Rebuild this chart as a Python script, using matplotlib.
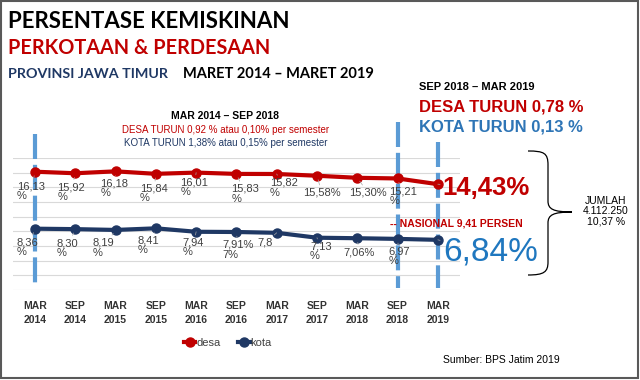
import numpy as np
import matplotlib.pyplot as plt
from matplotlib.path import Path
from matplotlib.patches import PathPatch, Rectangle

plt.rcParams['font.family'] = ['Liberation Sans', 'DejaVu Sans']

# ======== data ========
periods = ['MAR\n2014', 'SEP\n2014', 'MAR\n2015', 'SEP\n2015', 'MAR\n2016', 'SEP\n2016',
           'MAR\n2017', 'SEP\n2017', 'MAR\n2018', 'SEP\n2018', 'MAR\n2019']
desa = [16.13, 15.92, 16.18, 15.84, 16.01, 15.83, 15.82, 15.58, 15.30, 15.21, 14.43]
kota = [8.36, 8.30, 8.19, 8.41, 7.94, 7.91, 7.80, 7.13, 7.06, 6.97, 6.84]
desa_text = ['16,13\n%', '15,92\n%', '16,18\n%', '15,84\n%', '16,01\n%', '15,83\n%',
             '15,82\n%', '15,58%', '15,30%', '15,21\n%', '14,43%']
kota_text = ['8,36\n%', '8,30\n%', '8,19\n%', '8,41\n%', '7,94\n%', '7,91%\n7%',
             '7,8', '7,13\n%', '7,06%', '6,97\n%', '6,84%']
marked = [0, 9, 10]  # MAR 2014, SEP 2018, MAR 2019

# label offsets in pixels (dx right, dy down)
desa_off = [(-18, 10), (-18, 9), (-15, 7), (-16, 10), (-16, 5), (-5, 10),
            (-7, 4), (-14, 12), (-8, 10), (-8, 8)]
kota_off = [(-18, 9), (-19, 9), (-23, 8), (-18, 7), (-14, 6), (-14, 8),
            (-19, 5), (-7, 4), (-14, 9), (-9, 8)]

RED = '#C00000'
NAVY = '#1F3864'
LBLUE = '#5B9BD5'
BLUE = '#1F77BF'
GREY = '#404040'

fig = plt.figure(figsize=(6.4, 3.8), dpi=100)
ax = fig.add_axes([13 / 640, 90 / 380, 447 / 640, 132 / 380])
x = np.arange(len(periods))

ax.set_xlim(-0.546, 10.55)
ax.set_ylim(0, 18)
ax.set_yticks(np.arange(0, 19, 2))
ax.yaxis.grid(True, color='#D9D9D9', lw=0.8)
ax.set_axisbelow(True)
for s in ax.spines.values():
    s.set_visible(False)
ax.tick_params(axis='y', left=False, labelleft=False)
ax.tick_params(axis='x', length=0, pad=8)
ax.set_xticks(x)
ax.set_xticklabels(periods, fontsize=7.5, fontweight='bold', color='#333333', linespacing=1.5)

# dashed period markers (drawn top-down so a dash starts at the top)
tops = [21.3, 22.9, 20.2]
for k, t in zip(marked, tops):
    ax.plot([k, k], [t, 0.3], color=LBLUE, lw=3, ls=(0, (6, 1.4)), clip_on=False, zorder=1)

ax.plot(x, desa, color=RED, lw=3, marker='o', ms=6.5, label='desa', zorder=3)
ax.plot(x, kota, color=NAVY, lw=3, marker='o', ms=6.5, label='kota', zorder=3)

lp = dict(arrowstyle='-', color='#A6A6A6', lw=0.5, shrinkA=0, shrinkB=3)
for i, (dx, dy) in enumerate(desa_off):
    ax.annotate(desa_text[i], xy=(x[i], desa[i]), xytext=(dx, -dy), textcoords='offset pixels',
                ha='left', va='top', fontsize=8, color=GREY, linespacing=0.95,
                arrowprops=lp, zorder=4)
for i, (dx, dy) in enumerate(kota_off):
    ax.annotate(kota_text[i], xy=(x[i], kota[i]), xytext=(dx, -dy), textcoords='offset pixels',
                ha='left', va='top', fontsize=8, color=GREY, linespacing=0.95,
                arrowprops=lp, zorder=4)
ax.annotate(desa_text[-1], xy=(x[-1], desa[-1]), xytext=(5, -4), textcoords='offset pixels',
            ha='left', va='center', fontsize=18.5, fontweight='bold', color=RED,
            arrowprops=lp, zorder=4)
ax.annotate(kota_text[-1], xy=(x[-1], kota[-1]), xytext=(5, -12), textcoords='offset pixels',
            ha='left', va='center', fontsize=24, color=BLUE,
            arrowprops=lp, zorder=4)

ax.legend(loc='center', bbox_to_anchor=(228 / 640, 1 - 343 / 380), bbox_transform=fig.transFigure,
          ncol=2, frameon=False, fontsize=8, handlelength=1.0, handletextpad=0.1,
          columnspacing=1.6, labelcolor=GREY)

# ======== overlay in pixel coordinates ========
ov = fig.add_axes([0, 0, 1, 1], zorder=5)
ov.set_xlim(0, 640)
ov.set_ylim(380, 0)
ov.axis('off')

tf = ['Lato', 'DejaVu Sans']
ov.text(8, 21, 'PERSENTASE KEMISKINAN', fontsize=16, fontweight='bold', family=tf,
        color='black', va='center')
ov.text(8, 48.5, 'PERKOTAAN & PERDESAAN', fontsize=14.3, fontweight='bold', family=tf,
        color=RED, va='center')
ov.text(8, 74, 'PROVINSI JAWA TIMUR', fontsize=10.3, fontweight='bold', family=tf,
        color=NAVY, va='center')
ov.text(183, 74, 'MARET 2014 \u2013 MARET 2019', fontsize=10.5, fontweight='bold', family=tf,
        color='black', va='center')

ov.text(225, 116, 'MAR 2014 \u2013 SEP 2018', fontsize=7.5, fontweight='bold', ha='center', va='center')
ov.text(226, 130, 'DESA TURUN 0,92 % atau 0,10% per semester', fontsize=7, color=RED,
        ha='center', va='center')
ov.text(226, 143, 'KOTA TURUN 1,38% atau 0,15% per semester', fontsize=7, color=NAVY,
        ha='center', va='center')

ov.text(419, 87, 'SEP 2018 \u2013 MAR 2019', fontsize=8, fontweight='bold', va='center')
ov.text(419, 107, 'DESA TURUN 0,78 %', fontsize=12, fontweight='bold', color=RED, va='center')
ov.text(419, 127, 'KOTA TURUN 0,13 %', fontsize=12, fontweight='bold', color='#2E75B6', va='center')

ov.text(390, 223, '-- NASIONAL 9,41 PERSEN', fontsize=7.5, fontweight='bold', color=RED, va='center')

# brace
verts = [(528, 151), (544, 151), (548, 153), (548, 165),
         (548, 201),
         (548, 209), (553, 212), (572, 212),
         (553, 212), (548, 215), (548, 223),
         (548, 262),
         (548, 272), (544, 275), (528, 275)]
codes = [Path.MOVETO, Path.CURVE4, Path.CURVE4, Path.CURVE4,
         Path.LINETO,
         Path.CURVE4, Path.CURVE4, Path.CURVE4,
         Path.CURVE4, Path.CURVE4, Path.CURVE4,
         Path.LINETO,
         Path.CURVE4, Path.CURVE4, Path.CURVE4]
ov.add_patch(PathPatch(Path(verts, codes), fill=False, color='black', lw=0.9))

ov.text(606, 211, 'JUMLAH\n4.112.250\n10,37 %', fontsize=7.5, ha='center', va='center',
        linespacing=1.05)
ov.text(443, 360, 'Sumber: BPS Jatim 2019', fontsize=7.5, va='center')

ov.add_patch(Rectangle((1, 1), 637, 377, fill=False, ec='#595959', lw=1.5))

fig.savefig('out.png', dpi=100)
